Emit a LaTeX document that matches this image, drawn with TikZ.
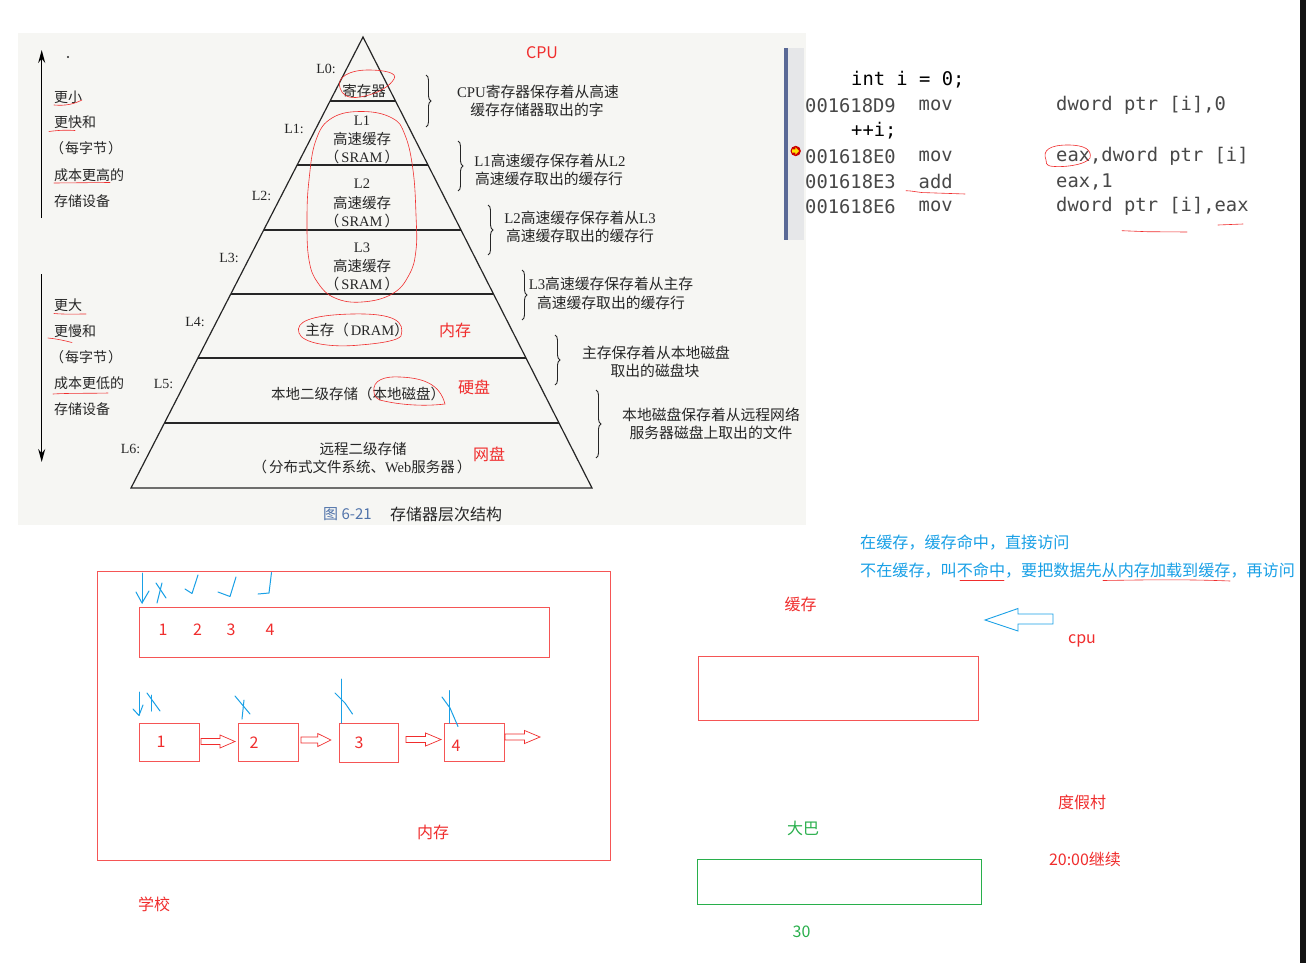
\documentclass[tikz,border=0pt]{standalone}
\usepackage{fontspec}
\setmainfont{Liberation Serif}
\newfontfamily\cjk{Noto Sans CJK SC}
\newfontfamily\monof{DejaVu Sans Mono}
\newcommand\latn[1]{{\rmfamily #1}}
\usetikzlibrary{decorations.pathreplacing,shapes.geometric,arrows.meta}
\definecolor{hred}{RGB}{240,45,45}
\definecolor{bred}{RGB}{245,85,85}
\definecolor{hblue}{RGB}{25,160,230}
\definecolor{hgreen}{RGB}{40,175,75}
\definecolor{ink}{RGB}{38,38,38}
\definecolor{codegray}{RGB}{72,72,72}
\definecolor{paper}{RGB}{246,246,243}
\definecolor{capblue}{RGB}{80,115,170}
\definecolor{gutter}{RGB}{230,231,233}
\definecolor{barblue}{RGB}{90,105,150}
\tikzset{
  pt/.style={font=\cjk\fontsize{14.5}{16}\selectfont, text=ink, inner sep=0pt},
  lt/.style={font=\cjk\fontsize{14}{16}\selectfont, text=ink, inner sep=0pt, anchor=west},
  dsc/.style={font=\cjk\fontsize{14.8}{16}\selectfont, text=ink, inner sep=0pt},
  lv/.style={font=\fontsize{14}{16}\selectfont, text=ink, inner sep=0pt},
  ann/.style={font=\cjk\fontsize{16}{18}\selectfont, text=hred, inner sep=0pt},
  bl/.style={font=\cjk\fontsize{16.1}{18}\selectfont, text=hblue, inner sep=0pt, anchor=west},
  gr/.style={font=\cjk\fontsize{16}{18}\selectfont, text=hgreen, inner sep=0pt},
  code/.style={font=\monof\fontsize{18.8}{20}\selectfont, text=codegray, inner sep=0pt, anchor=west},
  src/.style={code, text=black},
  hand/.style={draw=hred, line width=0.6pt, line cap=round},
  bhand/.style={draw=hblue, line width=1pt, line cap=round, line join=round},
  pline/.style={draw=ink, line width=1.2pt},
  rbox/.style={draw=bred, line width=0.9pt, inner sep=0pt},
  gbox/.style={draw=hgreen, line width=0.9pt, inner sep=0pt},
  harrow/.style={draw=hred, fill=white, line width=0.7pt, line join=miter},
  brc/.style={draw=ink, line width=0.9pt, decorate, decoration={brace, amplitude=5pt}},
}
\begin{document}
\begin{tikzpicture}[x=1pt,y=-1pt]
\path[use as bounding box, fill=white] (0,0) rectangle (1306,963);
\fill[paper] (18,33) rectangle (806,525);
\fill[black!92] (1300,0) rectangle (1306,963);

% ---------- pyramid ----------
\draw[pline, line join=miter] (131,488) -- (363,37) -- (592,488) -- cycle;
\draw[pline] (330.1,101) -- (395.5,101);
\draw[pline] (297.2,165) -- (428.0,165);
\draw[pline] (263.7,230) -- (461.0,230);
\draw[pline] (230.8,294) -- (493.5,294);
\draw[pline] (197.9,358) -- (526.0,358);
\draw[pline] (164.4,423) -- (559.0,423);

\node[pt] (reg) at (364,91) {寄存器};
\node[pt] (l1a) at (362,121) {\latn{L1}};
\node[pt] (l1b) at (362,139) {高速缓存};
\node[pt] (l1c) at (362,157) {（\hspace{2pt}\latn{SRAM}\hspace{2pt}）};
\node[pt] (l2a) at (362,184) {\latn{L2}};
\node[pt] (l2b) at (362,202.5) {高速缓存};
\node[pt] (l2c) at (362,220.5) {（\hspace{2pt}\latn{SRAM}\hspace{2pt}）};
\node[pt] (l3a) at (362,248) {\latn{L3}};
\node[pt] (l3b) at (362,266) {高速缓存};
\node[pt] (l3c) at (362,283.5) {（\hspace{2pt}\latn{SRAM}\hspace{2pt}）};
\node[pt] (l4) at (357,330) {主存（\hspace{2pt}\latn{DRAM}）};
\node[pt] (l5) at (358,394) {本地二级存储（本地磁盘）};
\node[pt] (l6a) at (363,449) {远程二级存储};
\node[pt] (l6b) at (362,466.5) {（\hspace{2pt}分布式文件系统、\latn{Web}服务器\hspace{2pt}）};

\node[lv] (lab0) at (326,69) {L0:};
\node[lv] (lab1) at (294,129) {L1:};
\node[lv] (lab2) at (261.5,195.5) {L2:};
\node[lv] (lab3) at (229,258) {L3:};
\node[lv] (lab4) at (195,321.5) {L4:};
\node[lv] (lab5) at (163.5,384) {L5:};
\node[lv] (lab6) at (130.5,449) {L6:};

% braces and descriptions
\draw[brc] (426,75) -- (426,127);
\draw[brc] (458,141) -- (458,191);
\draw[brc] (488,205) -- (488,255);
\draw[brc] (522,270) -- (522,320);
\draw[brc] (555,335) -- (555,385);
\draw[brc] (596,390) -- (596,458);

\node[dsc] (d1a) at (538,92) {\latn{CPU}寄存器保存着从高速};
\node[dsc] (d1b) at (537,110) {缓存存储器取出的字};
\node[dsc] (d2a) at (550,161) {\latn{L1}高速缓存保存着从\latn{L2}};
\node[dsc] (d2b) at (549,178.5) {高速缓存取出的缓存行};
\node[dsc] (d3a) at (580,218) {\latn{L2}高速缓存保存着从\latn{L3}};
\node[dsc] (d3b) at (580,235.5) {高速缓存取出的缓存行};
\node[dsc] (d4a) at (611,284) {\latn{L3}高速缓存保存着从主存};
\node[dsc] (d4b) at (611,303) {高速缓存取出的缓存行};
\node[dsc] (d5a) at (656,353) {主存保存着从本地磁盘};
\node[dsc] (d5b) at (655,371) {取出的磁盘块};
\node[dsc] (d6a) at (711,415) {本地磁盘保存着从远程网络};
\node[dsc] (d6b) at (711,433) {服务器磁盘上取出的文件};

\node[font=\cjk\fontsize{15}{17}\selectfont, text=capblue, inner sep=0pt, anchor=west] (cap1) at (323,514) {图 6-21};
\node[font=\cjk\fontsize{16}{18}\selectfont, text=ink, inner sep=0pt, anchor=west] (cap2) at (390,514) {存储器层次结构};

% left side
\fill[ink] (68,57) circle (1.1);
\draw[line width=1.4pt, -{Stealth[length=13pt,width=7pt]}] (41.7,218) -- (41.7,50);
\draw[line width=1.4pt, -{Stealth[length=13pt,width=7pt]}] (41.7,274) -- (41.7,462);
\node[lt] (s1) at (54,97) {更小};
\node[lt] (s2) at (54,122.5) {更快和};
\node[lt] (s3) at (50,148.5) {（\hspace{1pt}每字节\hspace{1pt}）};
\node[lt] (s4) at (54,175) {成本更高的};
\node[lt] (s5) at (54,201) {存储设备};
\node[lt] (t1) at (54,305) {更大};
\node[lt] (t2) at (54,331) {更慢和};
\node[lt] (t3) at (50,357) {（\hspace{1pt}每字节\hspace{1pt}）};
\node[lt] (t4) at (54,383) {成本更低的};
\node[lt] (t5) at (54,409.5) {存储设备};
\draw[hand] (54,105) .. controls (66,106) and (74,104) .. (82,100);
\draw[hand] (49,131.5) .. controls (60,130) and (68,130) .. (75,130.5);
\draw[hand] (54,183) -- (110,182.5);
\draw[hand] (54,313.5) .. controls (65,314.5) and (76,314) .. (86,314);
\draw[hand] (48,338) .. controls (58,339) and (66,341) .. (72,342.5);
\draw[hand] (53,394) .. controls (70,393) and (90,393.5) .. (108,393);

% red annotations on pyramid
\node[ann] (cpuA) at (542,52.5) {CPU};
\node[ann] (nc) at (455,330) {内存};
\node[ann] (yp) at (474,387) {硬盘};
\node[ann] (wp) at (489,454.5) {网盘};
\draw[hand] (340,88) .. controls (336,77) and (350,70) .. (368,70) .. controls (385,70) and (398,73) .. (394,79) .. controls (390,86) and (378,94) .. (360,97) .. controls (348,99) and (342,95) .. (340,88);
\draw[hand] plot[smooth cycle, tension=0.7] coordinates {(362,111.5) (392,118) (405,135) (413,170) (416,215) (416,250) (409,275) (392,294) (362,302) (335,298) (318,283) (309,260) (307,220) (309,180) (316,140) (332,118)};
\draw[hand] (401,336) .. controls (405,322) and (396,313) .. (352,314) .. controls (310,315) and (295,322) .. (299,333) .. controls (302,343) and (330,348) .. (360,345) .. controls (385,343) and (398,340) .. (401,336);
\draw[hand] (374,392) .. controls (372,380) and (385,376) .. (400,377) .. controls (425,378) and (440,385) .. (445,404) .. controls (420,407) and (395,404) .. (380,400) .. controls (376,398) and (374,396) .. (374,392);

% ---------- code block ----------
\fill[gutter] (788,48) rectangle (804,240);
\fill[barblue] (784,48) rectangle (788,240);
\fill[red!80!black] (795.7,151) circle (5.2);
\fill[yellow!85!orange] (792,149.3) -- (795.3,149.3) -- (795.3,147.3) -- (799.2,151) -- (795.3,154.7) -- (795.3,152.7) -- (792,152.7) -- cycle;
\node[src] (c1) at (851,80) {int i = 0;};
\node[code] (a2) at (805,105.5) {001618D9};
\node[code] (m2) at (918.5,105.5) {mov};
\node[code] (o2) at (1056,105.5) {dword ptr [i],0};
\node[src] (c3) at (851,131) {++i;};
\node[code] (a4) at (805,156.5) {001618E0};
\node[code] (m4) at (918.5,156.5) {mov};
\node[code] (o4) at (1056,156.5) {eax,dword ptr [i]};
\node[code] (a5) at (805,181.5) {001618E3};
\node[code] (m5) at (918.5,181.5) {add};
\node[code] (o5) at (1056,181.5) {eax,1};
\node[code] (a6) at (805,206.5) {001618E6};
\node[code] (m6) at (918.5,206.5) {mov};
\node[code] (o6) at (1056,206.5) {dword ptr [i],eax};
\draw[hand] (1046,160) .. controls (1042,150) and (1050,145) .. (1068,145) .. controls (1085,145) and (1092,150) .. (1090,158) .. controls (1086,165) and (1062,168) .. (1050,166) .. controls (1046,165) and (1046,162) .. (1046,160);
\draw[hand] (906,190.7) .. controls (915,191) and (920,193) .. (927,192.7) -- (965,194);
\draw[hand] (1122,230.7) -- (1147,231.7) -- (1187,232);
\draw[hand] (1218,225) -- (1243,224);

% ---------- blue notes ----------
\node[bl] (n1) at (860,542.5) {在缓存，缓存命中，直接访问};
\node[bl] (n2) at (860,570) {不在缓存，叫不命中，要把数据先从内存加载到缓存，再访问};
\draw[hand] (960,580) -- (1004,580);
\draw[hand] (1103,580.5) .. controls (1140,580) and (1180,579) .. (1230,581);
\draw[draw=hblue, line width=0.9pt, fill=white, line join=miter] (1053,614) -- (1018,614) -- (1018,608.5) -- (985,620) -- (1018,631) -- (1018,624) -- (1053,624) -- cycle;

% ---------- right bottom ----------
\node[ann] (hc) at (800.5,604) {缓存};
\node[ann] (cpuB) at (1082,641) {cpu};
\node[rbox, minimum width=280pt, minimum height=64pt] (cbox) at (838,688) {};
\node[ann] (djc) at (1082,802) {度假村};
\node[gr] (db) at (803,828) {大巴};
\node[gbox, minimum width=284pt, minimum height=45pt] (bus) at (839,881.5) {};
\node[ann] (t20) at (1085,859) {20:00继续};
\node[gr] (n30) at (801.5,932) {30};

% ---------- left bottom ----------
\node[rbox, minimum width=513pt, minimum height=289pt] (mem) at (353.5,715.5) {};
\node[rbox, minimum width=410pt, minimum height=50pt] (line) at (344,632) {};
\node[ann] (k1) at (163,630) {1};
\node[ann] (k2) at (197.5,630) {2};
\node[ann] (k3) at (231,630) {3};
\node[ann] (k4) at (270,630) {4};
\node[rbox, minimum width=60pt, minimum height=38pt] (b1) at (169,742) {};
\node[rbox, minimum width=60pt, minimum height=38pt] (b2) at (268,742) {};
\node[rbox, minimum width=59pt, minimum height=39pt] (b3) at (368.5,742.5) {};
\node[rbox, minimum width=60pt, minimum height=38pt] (b4) at (474,742) {};
\node[ann] (j1) at (161,741.5) {1};
\node[ann] (j2) at (254,742.5) {2};
\node[ann] (j3) at (359,743) {3};
\node[ann] (j4) at (456,746) {4};
\draw[harrow, shift={(201,741.5)}] (0,-3) -- (19,-3) -- (19,-6.5) -- (34,0) -- (19,6.5) -- (19,3) -- (0,3) -- cycle;
\draw[harrow, shift={(301,740)}, xscale=0.88] (0,-3) -- (19,-3) -- (19,-6.5) -- (34,0) -- (19,6.5) -- (19,3) -- (0,3) -- cycle;
\draw[harrow, shift={(406,739.5)}, xscale=1.03] (0,-3) -- (19,-3) -- (19,-6.5) -- (34,0) -- (19,6.5) -- (19,3) -- (0,3) -- cycle;
\draw[harrow, shift={(505,737)}, xscale=1.03] (0,-3) -- (19,-3) -- (19,-6.5) -- (34,0) -- (19,6.5) -- (19,3) -- (0,3) -- cycle;
\node[ann] (nc2) at (433,832) {内存};
\node[ann] (xx) at (154,904) {学校};

% blue handwriting marks
\draw[bhand] (142,573) -- (142,603);
\draw[bhand] (136,592) -- (142,603) -- (149,591);
\draw[bhand] (156,583) -- (166,598);
\draw[bhand] (162,583) -- (157,603);
\draw[bhand] (185,589) -- (192,593.5) -- (198,575);
\draw[bhand] (218,592) -- (230,596.5) -- (236,577);
\draw[bhand] (258,594) -- (269,593) -- (271.5,572.5);
\draw[bhand] (139,692) -- (139,715);
\draw[bhand] (133,709) -- (139,715.5) -- (143,705);
\draw[bhand] (147,693) -- (160,711);
\draw[bhand] (151.5,695) -- (151.5,711);
\draw[bhand] (235,696) -- (250,714);
\draw[bhand] (244,700) -- (242,719);
\draw[bhand] (341,679) -- (341,723);
\draw[bhand] (335,693) -- (345,703) -- (352.5,714);
\draw[bhand] (449,690.5) -- (449,723);
\draw[bhand] (442,697) -- (450,708) -- (458,726.5);
\end{tikzpicture}
\end{document}
